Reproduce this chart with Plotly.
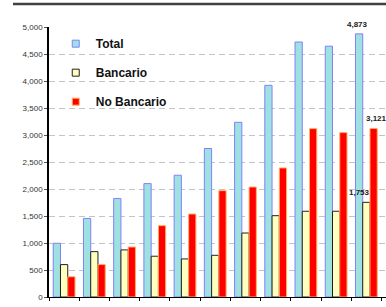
import plotly.graph_objects as go

categories = ["P1", "P2", "P3", "P4", "P5", "P6", "P7", "P8", "P9", "P10", "P11"]
total = [995, 1455, 1825, 2100, 2255, 2750, 3235, 3920, 4722, 4645, 4873]
bancario = [600, 840, 872, 755, 705, 772, 1185, 1506, 1588, 1588, 1753]
no_bancario = [375, 600, 926, 1321, 1537, 1969, 2037, 2390, 3118, 3044, 3121]
series_names = ["Total", "Bancario", "No Bancario"]

fills = ["#9fe0e0", "#ffffc0", "#ff0000"]
borders = ["#8080ff", "#202020", "#ffb060"]
label_xshift = [-9.2, -6.5, 9.7]

W, H = 386, 307
ML, MR, MT, MB = 49, 0, 27, 10

fig = go.Figure()
for name, vals, fc, bc, xs in zip(series_names, [total, bancario, no_bancario],
                                  fills, borders, label_xshift):
    fig.add_trace(go.Bar(
        x=categories, y=vals, name=name, showlegend=False,
        marker=dict(color=fc, line=dict(color=bc, width=1)),
        hoverinfo="skip",
    ))
    # legend proxy
    fig.add_trace(go.Scatter(
        x=[None], y=[None], mode="markers", name=name, legendgroup=name,
        marker=dict(symbol="square", size=7, color=fc, line=dict(color=bc, width=1)),
    ))
    # value label of the last group
    fig.add_annotation(
        x=len(categories) - 1, y=vals[-1], text=f"<b>{vals[-1]:,}</b>",
        showarrow=False, xanchor="center", yanchor="bottom",
        xshift=xs, yshift=3,
        font=dict(family="Liberation Sans, Arial", size=8, color="#222222"),
    )

fig.update_layout(
    width=W, height=H,
    margin=dict(l=ML, r=MR, t=MT, b=MB),
    paper_bgcolor="white", plot_bgcolor="white",
    barmode="group", bargap=0.28, bargroupgap=0,
    showlegend=True,
    legend=dict(
        x=0.02, y=0.992, xanchor="left", yanchor="top",
        font=dict(family="Liberation Sans, Arial", size=12, color="#111111", weight="bold"),
        tracegroupgap=10, itemwidth=30, bgcolor="rgba(0,0,0,0)",
    ),
    xaxis=dict(
        type="category", range=[-0.5, 10.65], showticklabels=False,
        showline=True, linecolor="black", linewidth=1,
        ticks="outside", tickson="boundaries", ticklen=3, tickcolor="black",
        showgrid=False, zeroline=False,
    ),
    yaxis=dict(
        range=[0, 5000], dtick=500, tickformat=",",
        showline=True, linecolor="black", linewidth=1.5,
        ticks="outside", ticklen=3, tickcolor="#555555",
        tickfont=dict(family="Liberation Sans, Arial", size=8, color="#333333"),
        showgrid=True, gridcolor="#c4c4c4", gridwidth=1, griddash="6px,4px",
        zeroline=False,
    ),
)

# dark rule at top of the picture
fig.add_shape(type="line", xref="paper", yref="paper",
              x0=(13 - ML) / (W - ML - MR), x1=1.0,
              y0=(H - MB - 4) / (H - MT - MB), y1=(H - MB - 4) / (H - MT - MB),
              line=dict(color="#404040", width=2.5))

fig.write_html(
    "out.html",
    config={"displayModeBar": False},
    post_script="document.body.style.margin='0px';document.body.style.overflow='hidden';",
)
